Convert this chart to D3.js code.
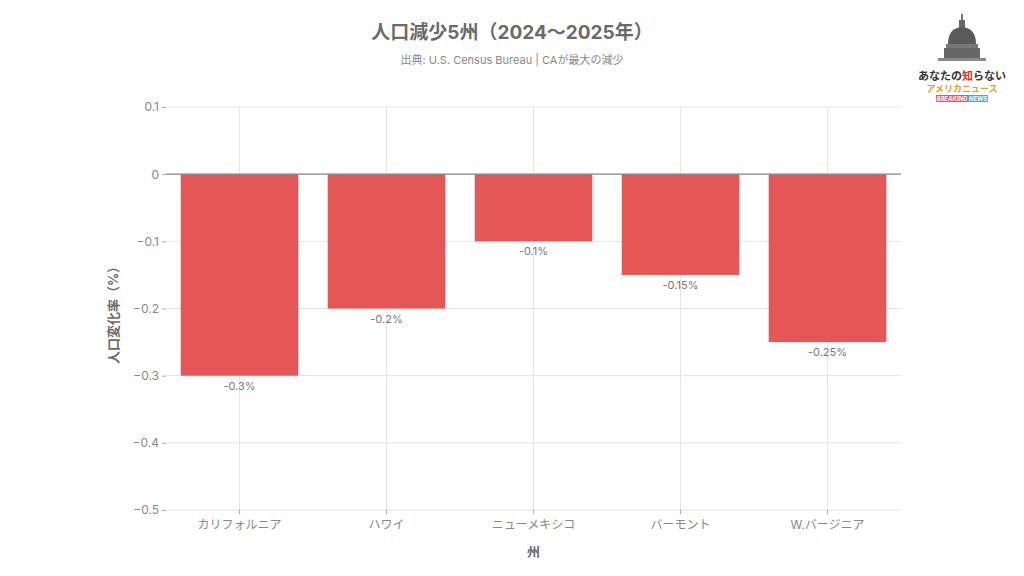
<!DOCTYPE html>
<html>
<head>
<meta charset="utf-8">
<script src="https://d3js.org/d3.v7.min.js"></script>
<style>
    body { margin: 0; background: #fff; }
    svg text { font-family: Inter, "Noto Sans CJK JP", sans-serif; }
    .grid line { stroke: #e4e4e4; stroke-width: 1px; }
    .axis text { fill: #888; font-size: 11px; }
    .axis line { stroke: #aaa; }
    .axis path { display: none; }
</style>
</head>
<body>
<div id="chart"></div>
<script>
// data
var states = ["カリフォルニア", "ハワイ", "ニューメキシコ", "バーモント", "W.バージニア"];
var changes = [-0.3, -0.2, -0.1, -0.15, -0.25];
var barLabels = ["-0.3%", "-0.2%", "-0.1%", "-0.15%", "-0.25%"];
var yTicks = [0.1, 0, -0.1, -0.2, -0.3, -0.4, -0.5];

var width = 1024, height = 576;
var margin = { top: 107, right: 123, bottom: 66, left: 166 };

var svg = d3.select("#chart").append("svg")
    .attr("width", width)
    .attr("height", height);

var x = d3.scaleBand()
    .domain(states)
    .range([margin.left, width - margin.right])
    .paddingInner(0.2)
    .paddingOuter(0.1);

var y = d3.scaleLinear()
    .domain([-0.5, 0.1])
    .range([height - margin.bottom, margin.top]);

// gridlines
var grid = svg.append("g").attr("class", "grid");
grid.selectAll("line.h")
    .data(yTicks)
    .enter().append("line")
    .attr("class", "h")
    .attr("x1", margin.left)
    .attr("x2", width - margin.right)
    .attr("y1", function (d) { return y(d); })
    .attr("y2", function (d) { return y(d); });

grid.selectAll("line.v")
    .data(states)
    .enter().append("line")
    .attr("class", "v")
    .attr("x1", function (d) { return x(d) + x.bandwidth() / 2; })
    .attr("x2", function (d) { return x(d) + x.bandwidth() / 2; })
    .attr("y1", margin.top)
    .attr("y2", height - margin.bottom);

// axes
svg.append("g")
    .attr("class", "axis")
    .attr("transform", "translate(" + margin.left + ",0)")
    .call(d3.axisLeft(y).tickValues(yTicks).tickSize(4).tickPadding(3)
        .tickFormat(function (d) { return d === 0 ? "0" : d3.format(".1f")(d).replace("-", "\u2212"); }))
    .selectAll("text").style("font-size", "12px");

svg.append("g")
    .attr("class", "axis")
    .attr("transform", "translate(0," + (height - margin.bottom) + ")")
    .call(d3.axisBottom(x).tickSize(4).tickPadding(6))
    .selectAll("text").style("font-size", "12px").attr("fill", "#777");

// bars
svg.append("g")
    .selectAll("rect")
    .data(changes)
    .enter().append("rect")
    .attr("x", function (d, i) { return x(states[i]); })
    .attr("width", x.bandwidth())
    .attr("y", function (d) { return y(Math.max(0, d)); })
    .attr("height", function (d) { return Math.abs(y(d) - y(0)); })
    .attr("fill", "#e45756");

// zero line
svg.append("line")
    .attr("x1", margin.left)
    .attr("x2", width - margin.right)
    .attr("y1", y(0))
    .attr("y2", y(0))
    .attr("stroke", "#888")
    .attr("stroke-width", 1.2);

// value labels
svg.append("g")
    .selectAll("text")
    .data(changes)
    .enter().append("text")
    .attr("x", function (d, i) { return x(states[i]) + x.bandwidth() / 2; })
    .attr("y", function (d) { return y(d) + 14; })
    .attr("text-anchor", "middle")
    .attr("fill", "#777")
    .style("font-size", "11px")
    .text(function (d, i) { return barLabels[i]; });

// titles
svg.append("text")
    .attr("x", 512).attr("y", 39)
    .attr("text-anchor", "middle")
    .attr("fill", "#6a6a6a")
    .style("font-size", "19px").style("font-weight", "bold")
    .text("人口減少5州（2024〜2025年）");

svg.append("text")
    .attr("x", 512).attr("y", 64)
    .attr("text-anchor", "middle")
    .attr("fill", "#888")
    .style("font-size", "11px")
    .text("出典: U.S. Census Bureau | CAが最大の減少");

svg.append("text")
    .attr("transform", "translate(118,312) rotate(-90)")
    .attr("text-anchor", "middle")
    .attr("fill", "#6a6a6a")
    .style("font-size", "13px").style("font-weight", "bold")
    .text("人口変化率（%）");

svg.append("text")
    .attr("x", x(states[2]) + x.bandwidth() / 2).attr("y", 556)
    .attr("text-anchor", "middle")
    .attr("fill", "#6a6a6a")
    .style("font-size", "13px").style("font-weight", "bold")
    .text("州");

// logo (top right)
var logo = svg.append("g").attr("transform", "translate(962,0)");
logo.append("rect").attr("x", -0.8).attr("y", 14).attr("width", 1.6).attr("height", 6).attr("fill", "#555");
logo.append("rect").attr("x", -3).attr("y", 20).attr("width", 6).attr("height", 8).attr("fill", "#666");
logo.append("path").attr("d", "M-14,44 Q-14,28 0,27 Q14,28 14,44 Z").attr("fill", "#5a5a5a");
logo.append("rect").attr("x", -16).attr("y", 44).attr("width", 32).attr("height", 4).attr("fill", "#777");
logo.append("rect").attr("x", -18).attr("y", 48).attr("width", 36).attr("height", 10).attr("fill", "#666");
logo.append("rect").attr("x", -24).attr("y", 58).attr("width", 48).attr("height", 3).attr("fill", "#888");
logo.append("text").attr("x", 0).attr("y", 80).attr("text-anchor", "middle")
    .style("font-size", "11px").style("font-weight", "bold").attr("fill", "#333")
    .html('あなたの<tspan fill="#e03030">知</tspan>らない');
logo.append("text").attr("x", 0).attr("y", 92).attr("text-anchor", "middle")
    .style("font-size", "9px").style("font-weight", "bold").attr("fill", "#e0a020")
    .text("アメリカニュース");
logo.append("rect").attr("x", -26).attr("y", 95).attr("width", 32).attr("height", 7).attr("fill", "#f05060");
logo.append("rect").attr("x", 6).attr("y", 95).attr("width", 20).attr("height", 7).attr("fill", "#40a8e8");
logo.append("text").attr("x", -10).attr("y", 101).attr("text-anchor", "middle")
    .style("font-size", "6px").style("font-weight", "bold").style("font-style", "italic").attr("fill", "#fff")
    .text("BREAKING");
logo.append("text").attr("x", 16).attr("y", 101).attr("text-anchor", "middle")
    .style("font-size", "6px").style("font-weight", "bold").style("font-style", "italic").attr("fill", "#fff")
    .text("NEWS");
</script>
</body>
</html>
